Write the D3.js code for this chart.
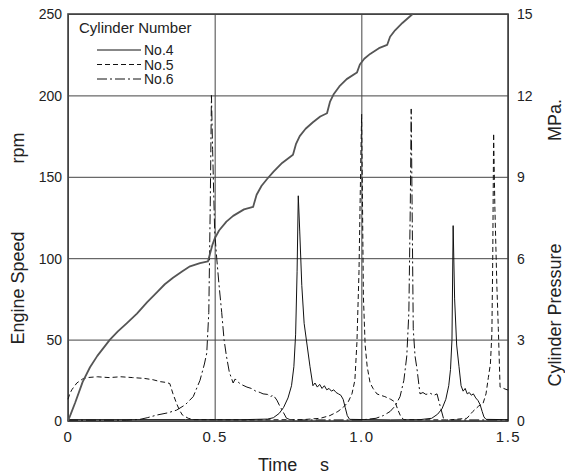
<!DOCTYPE html>
<meta charset="utf-8">
<script src="https://d3js.org/d3.v7.min.js"></script>
<style>
  body { margin: 0; background: #fff; }
  text { font-family: "Liberation Sans", Arial, sans-serif; fill: #222; }
</style>
<svg id="chart" width="565" height="476"></svg>
<script>

// tick values
const timeTicks = [0, 0.5, 1.0, 1.5];
const timeLabels = ["0", "0.5", "1.0", "1.5"];
const speedTicks = [0, 50, 100, 150, 200, 250];
const pressTicks = [0, 3, 6, 9, 12, 15];

// engine speed, rpm  [time s, rpm]
const speed = [[0,0],[0.01,4.5],[0.025,11.5],[0.05,24],[0.075,33],[0.1,40],[0.143,50],[0.17,55],
  [0.2,60],[0.235,66],[0.27,73],[0.303,79],[0.33,84],[0.358,88],[0.39,92],[0.416,95],[0.45,97],
  [0.477,98],[0.492,108],[0.5,112],[0.515,117],[0.54,122.5],[0.563,126],[0.6,130],[0.631,131.5],
  [0.643,139],[0.66,144.5],[0.678,148.5],[0.7,153],[0.73,158.5],[0.767,163.5],
  [0.777,170],[0.79,175],[0.81,179.5],[0.835,183.5],[0.86,187],[0.883,189],
  [0.893,196],[0.905,200.5],[0.925,205.5],[0.95,210],[0.985,214],
  [0.995,219],[1.01,222.5],[1.03,225.5],[1.06,229],[1.088,231],
  [1.098,236],[1.115,240],[1.14,244.5],[1.175,250]];

// cylinder pressure, MPa  [time s, MPa]
const no4 = [[0,0.05],[0.4,0.05],[0.6,0.05],[0.68,0.07],[0.7,0.12],[0.72,0.28],[0.735,0.5],
  [0.75,0.85],[0.762,1.3],[0.77,2.0],[0.776,3.2],[0.781,5.5],[0.785,8.3],[0.79,7.0],[0.797,5.0],
  [0.805,3.6],[0.815,2.8],[0.825,2.0],[0.835,1.3],[0.842,1.4],[0.85,1.25],[0.858,1.35],[0.866,1.2],
  [0.874,1.3],[0.882,1.15],[0.89,1.2],[0.898,1.1],[0.906,1.15],[0.914,1.05],[0.922,1.0],[0.93,0.95],
  [0.938,0.8],[0.945,0.5],[0.952,0.2],[0.96,0.06],[1.1,0.04],[1.2,0.05],[1.24,0.1],[1.26,0.25],
  [1.275,0.45],[1.288,0.8],[1.298,1.3],[1.304,1.9],[1.309,3.0],[1.313,7.2],[1.318,4.5],[1.325,2.8],
  [1.333,2.0],[1.34,1.3],[1.347,1.1],[1.354,1.2],[1.361,1.0],[1.368,1.05],[1.375,0.95],[1.382,1.0],
  [1.39,0.85],[1.398,0.75],[1.405,0.6],[1.412,0.35],[1.418,0.15],[1.425,0.06],[1.5,0.05]];

const no5 = [[0,0.8],[0.006,1.0],[0.013,1.15],[0.03,1.4],[0.05,1.55],[0.065,1.6],[0.1,1.63],
  [0.14,1.6],[0.18,1.63],[0.22,1.6],[0.26,1.57],[0.29,1.52],[0.315,1.45],[0.335,1.42],[0.347,1.38],
  [0.358,1.0],[0.37,0.65],[0.38,0.4],[0.39,0.22],[0.41,0.1],[0.43,0.05],[0.6,0.04],[0.8,0.05],
  [0.86,0.1],[0.893,0.2],[0.92,0.35],[0.938,0.5],[0.955,0.7],[0.968,1.0],[0.978,1.5],[0.985,2.9],
  [0.992,5.5],[0.998,9.5],[1.001,11.3],[1.004,8],[1.007,4.6],[1.013,2.8],[1.02,2.0],[1.03,1.4],
  [1.04,1.2],[1.053,1.0],[1.065,0.95],[1.08,0.9],[1.1,0.8],[1.115,0.7],[1.125,0.4],[1.135,0.15],
  [1.145,0.05],[1.3,0.04],[1.36,0.1],[1.38,0.35],[1.4,0.55],[1.415,0.65],[1.425,1.0],[1.433,1.6],
  [1.44,2.1],[1.445,3.2],[1.448,6],[1.451,10.6],[1.455,8],[1.462,5],[1.467,3.4],[1.473,1.25],
  [1.485,1.2],[1.497,1.15],[1.5,1.15]];

const no6 = [[0,0.03],[0.2,0.03],[0.245,0.06],[0.27,0.12],[0.303,0.22],[0.34,0.3],[0.37,0.4],
  [0.4,0.6],[0.427,0.9],[0.45,1.5],[0.465,2.1],[0.473,2.5],[0.48,4],[0.485,8],[0.489,12],
  [0.493,10],[0.5,7],[0.507,6],[0.515,5],[0.524,4],[0.532,3],[0.54,2.4],[0.55,1.8],[0.563,1.4],
  [0.57,1.55],[0.578,1.45],[0.59,1.35],[0.61,1.25],[0.625,1.2],[0.64,1.1],[0.655,1.05],[0.665,1.0],
  [0.68,0.98],[0.69,0.9],[0.7,0.95],[0.712,0.77],[0.722,0.55],[0.73,0.4],[0.745,0.1],[0.76,0.04],
  [1.0,0.04],[1.05,0.1],[1.075,0.2],[1.098,0.35],[1.115,0.55],[1.132,0.9],[1.145,1.5],[1.155,2.4],
  [1.162,4],[1.167,8],[1.17,11.5],[1.173,8],[1.177,3.4],[1.183,2.4],[1.19,1.9],[1.2,1.0],
  [1.21,1.05],[1.22,0.98],[1.235,1.02],[1.248,0.95],[1.258,1.0],[1.265,0.7],[1.27,0.5],[1.28,0.1],
  [1.29,0.04],[1.5,0.04]];

const legendItems = [
  { name: "No.4", data: no4, dash: null },
  { name: "No.5", data: no5, dash: "5,3" },
  { name: "No.6", data: no6, dash: "10,3,2,3" }
];

const svg = d3.select("#chart");
const mLeft = 68, mRight = 508, mTop = 14, mBottom = 421;

const x = d3.scaleLinear().domain([0, 1.5]).range([mLeft, mRight]);
const ySpeed = d3.scaleLinear().domain([0, 250]).range([mBottom, mTop]);
const yPress = d3.scaleLinear().domain([0, 15]).range([mBottom, mTop]);

svg.append("rect").attr("width", 565).attr("height", 476).attr("fill", "#fff");

// grid + left ticks
const gl = svg.append("g").attr("transform", `translate(${mLeft},0)`)
  .call(d3.axisLeft(ySpeed).tickValues(speedTicks).tickSize(-(mRight - mLeft)).tickPadding(6));
gl.select(".domain").remove();
gl.selectAll("line").attr("stroke", "#444").attr("stroke-width", 1);
gl.selectAll("text").attr("font-size", 14).attr("dy", "0.35em");

const gr = svg.append("g").attr("transform", `translate(${mRight},0)`)
  .call(d3.axisRight(yPress).tickValues(pressTicks).tickSize(0).tickPadding(9));
gr.select(".domain").remove();
gr.selectAll("text").attr("font-size", 14).attr("dy", "0.35em");

const gb = svg.append("g").attr("transform", `translate(0,${mBottom})`)
  .call(d3.axisBottom(x).tickValues(timeTicks).tickSize(-(mBottom - mTop)).tickPadding(10)
    .tickFormat((d, i) => timeLabels[i]));
gb.select(".domain").remove();
gb.selectAll("line").attr("stroke", "#444").attr("stroke-width", 1);
gb.selectAll("text").attr("font-size", 15).attr("letter-spacing", "1.5px");

// frame
svg.append("rect").attr("x", mLeft).attr("y", mTop)
  .attr("width", mRight - mLeft).attr("height", mBottom - mTop)
  .attr("fill", "none").attr("stroke", "#444").attr("stroke-width", 1.6);

// pressure traces
const linePress = d3.line().x(d => x(d[0])).y(d => yPress(d[1]));
legendItems.forEach(it => {
  svg.append("path").datum(it.data)
    .attr("d", linePress)
    .attr("fill", "none").attr("stroke", "#111").attr("stroke-width", 1)
    .attr("stroke-dasharray", it.dash);
});

// engine speed
const lineSpeed = d3.line().x(d => x(d[0])).y(d => ySpeed(d[1]));
svg.append("path").datum(speed)
  .attr("d", lineSpeed)
  .attr("fill", "none").attr("stroke", "#555").attr("stroke-width", 1.8)
  .attr("stroke-linejoin", "round");

// legend
svg.append("text").attr("x", 79).attr("y", 33).attr("font-size", 15).text("Cylinder Number");
legendItems.forEach((it, i) => {
  const yy = 50 + i * 14.5;
  svg.append("line").attr("x1", 97).attr("x2", 141).attr("y1", yy).attr("y2", yy)
    .attr("stroke", "#111").attr("stroke-width", 1).attr("stroke-dasharray", it.dash);
  svg.append("text").attr("x", 144).attr("y", yy + 5).attr("font-size", 14).text(it.name);
});

// axis titles
svg.append("text").attr("transform", "translate(24,288) rotate(-90)")
  .attr("text-anchor", "middle").attr("font-size", 18).text("Engine Speed");
svg.append("text").attr("transform", "translate(24,148) rotate(-90)")
  .attr("text-anchor", "middle").attr("font-size", 18).text("rpm");
svg.append("text").attr("transform", "translate(561,315) rotate(-90)")
  .attr("text-anchor", "middle").attr("font-size", 18).text("Cylinder Pressure");
svg.append("text").attr("transform", "translate(561,120) rotate(-90)")
  .attr("text-anchor", "middle").attr("font-size", 18).text("MPa.");
svg.append("text").attr("x", 258).attr("y", 471).attr("font-size", 18).text("Time");
svg.append("text").attr("x", 320).attr("y", 471).attr("font-size", 18).text("s");

</script>
